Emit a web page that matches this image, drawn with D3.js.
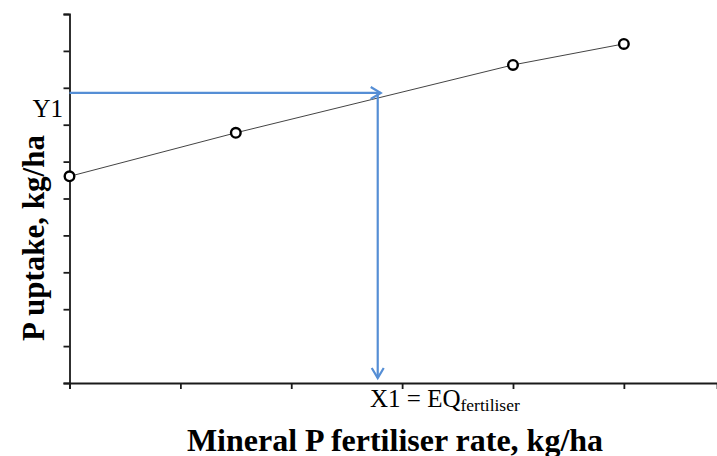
<!DOCTYPE html>
<html>
<head>
<meta charset="utf-8">
<script src="https://cdnjs.cloudflare.com/ajax/libs/d3/7.8.5/d3.min.js"></script>
<style>
	html, body { margin:0; background:#fff; }
	text { font-family: "Liberation Serif", "Times New Roman", serif; }
</style>
</head>
<body>
<div id="chart"></div>
<script>
// fertiliser rate (arbitrary units, one tick = 1) and P uptake
var rates   = [0, 1.5, 4.0, 5.0];
var uptakes = [5.6, 6.78, 8.62, 9.19];
var xTicks  = [0, 1, 2, 3, 4, 5];
var yTicks  = [0, 1, 2, 3, 4, 5, 6, 7, 8, 9, 10];
// read-off point
var x1Value = 2.78;
var y1Value = 7.86;

var W = 717, H = 456;
var svg = d3.select("#chart").append("svg")
	.attr("width", W).attr("height", H);

var x = d3.scaleLinear().domain([0, 5.84]).range([69.5, 717]);
var y = d3.scaleLinear().domain([0, 10]).range([383, 14]);

var blue = "#558ed5";

// axes
var yAxis = d3.axisLeft(y).tickValues(yTicks).tickSize(6).tickFormat("");
var xAxis = d3.axisBottom(x).tickValues(xTicks).tickSize(6).tickFormat("");

svg.append("g").attr("transform", "translate(" + x(0) + ",0)").call(yAxis)
	.call(function(g){ g.selectAll("path,line").attr("stroke", "#1a1a1a").attr("stroke-width", 1.8); });
svg.append("g").attr("transform", "translate(0," + y(0) + ")").call(xAxis)
	.call(function(g){ g.selectAll("path,line").attr("stroke", "#1a1a1a").attr("stroke-width", 1.8); });

// data line
var pts = rates.map(function(r, i){ return [r, uptakes[i]]; });
svg.append("path")
	.datum(pts)
	.attr("fill", "none")
	.attr("stroke", "#444")
	.attr("stroke-width", 1)
	.attr("d", d3.line().x(function(d){ return x(d[0]); }).y(function(d){ return y(d[1]); }));

// blue read-off arrows
var ax = x(x1Value), ay = y(y1Value), ah = 10, aw = 6;
svg.append("line")
	.attr("x1", x(0)).attr("y1", ay).attr("x2", ax + 3).attr("y2", ay)
	.attr("stroke", blue).attr("stroke-width", 2.2);
svg.append("path")
	.attr("d", "M" + (ax + 3 - ah) + "," + (ay - aw) + "L" + (ax + 3) + "," + ay + "L" + (ax + 3 - ah) + "," + (ay + aw))
	.attr("fill", "none").attr("stroke", blue).attr("stroke-width", 2.2);
svg.append("line")
	.attr("x1", ax).attr("y1", ay).attr("x2", ax).attr("y2", y(0) - 5)
	.attr("stroke", blue).attr("stroke-width", 2.2);
svg.append("path")
	.attr("d", "M" + (ax - aw) + "," + (y(0) - 5 - ah) + "L" + ax + "," + (y(0) - 5) + "L" + (ax + aw) + "," + (y(0) - 5 - ah))
	.attr("fill", "none").attr("stroke", blue).attr("stroke-width", 2.2);

// markers
svg.selectAll("circle")
	.data(pts)
	.enter().append("circle")
	.attr("cx", function(d){ return x(d[0]); })
	.attr("cy", function(d){ return y(d[1]); })
	.attr("r", 4.8)
	.attr("fill", "#fff")
	.attr("stroke", "#000")
	.attr("stroke-width", 2.4);

// labels
svg.append("text")
	.attr("x", 63).attr("y", 117)
	.attr("text-anchor", "end")
	.style("font-size", "25px")
	.text("Y1");

var xl = svg.append("text")
	.attr("x", 370).attr("y", 407)
	.style("font-size", "25px");
xl.append("tspan").text("X1 = EQ");
xl.append("tspan").attr("dy", 4).style("font-size", "17.5px").text("fertiliser");

svg.append("text")
	.attr("x", 395).attr("y", 451)
	.attr("text-anchor", "middle")
	.style("font-size", "32px").style("font-weight", "bold")
	.text("Mineral P fertiliser rate, kg/ha");

svg.append("text")
	.attr("transform", "translate(44,238) rotate(-90)")
	.attr("text-anchor", "middle")
	.style("font-size", "31px").style("font-weight", "bold")
	.text("P uptake, kg/ha");
</script>
</body>
</html>
